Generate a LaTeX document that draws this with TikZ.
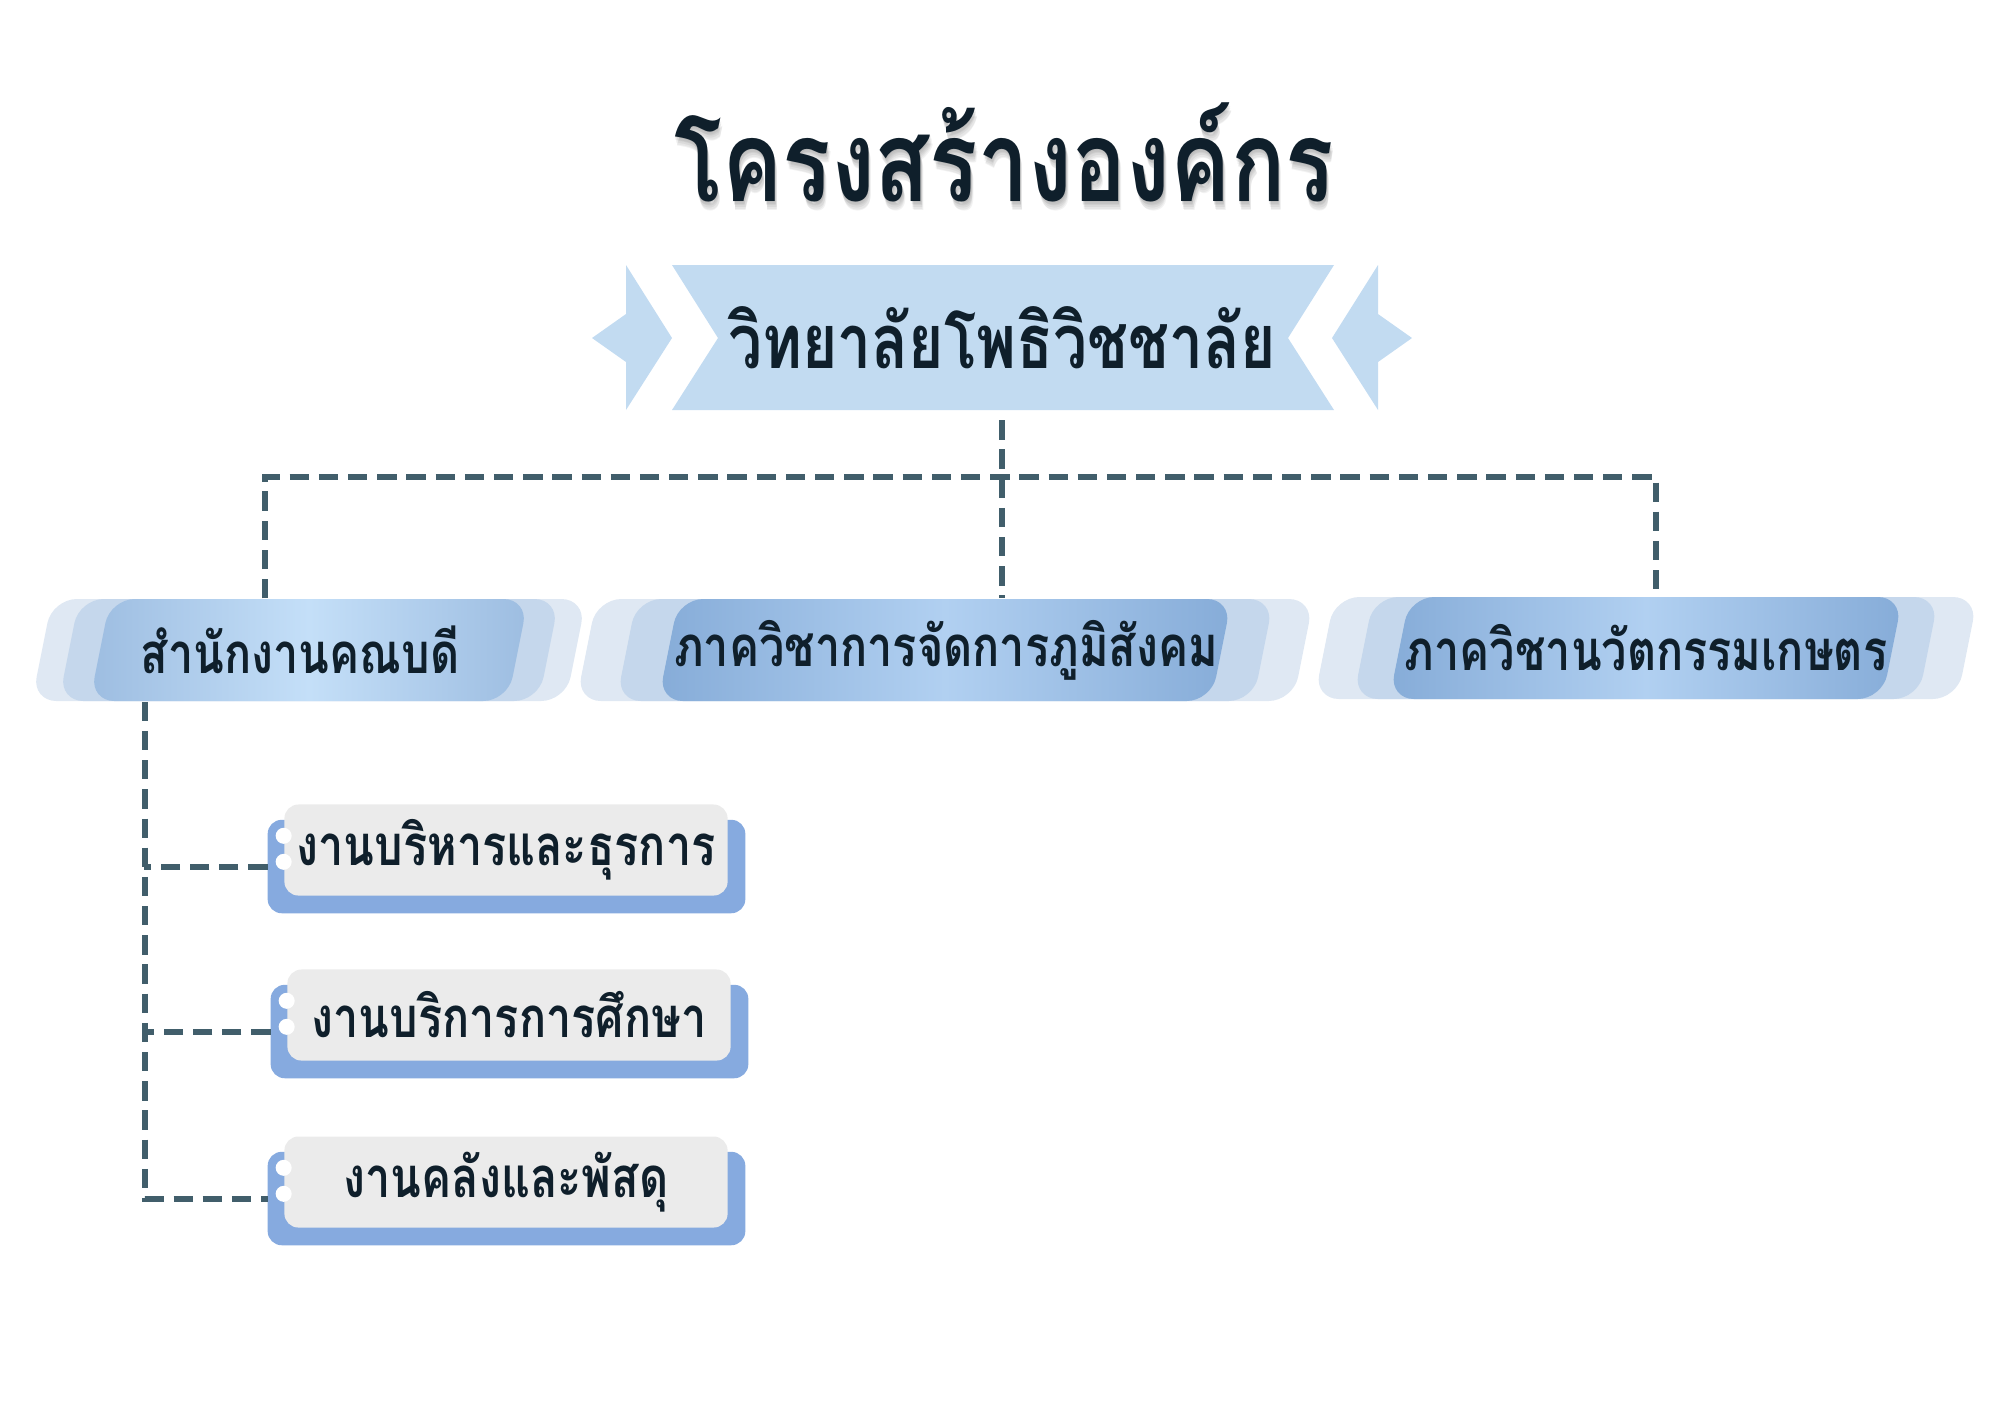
\documentclass[tikz,border=0pt]{standalone}
\usepackage{fontspec}
\newfontfamily\thaifont[Script=Thai,FakeStretch=0.8]{Loma}
\usetikzlibrary{backgrounds}
\definecolor{ink}{HTML}{0F1F2B}
\definecolor{linkc}{HTML}{415E6B}
\definecolor{bannerc}{HTML}{C2DBF1}
\definecolor{bandout}{HTML}{DFE8F3}
\definecolor{bandmid}{HTML}{C5D7EC}
\definecolor{edgeA}{HTML}{9DBDE1}
\definecolor{coreA}{HTML}{C4DFF8}
\definecolor{edgeB}{HTML}{86ACD8}
\definecolor{coreB}{HTML}{B1D0F1}
\definecolor{cardback}{HTML}{86AADF}
\definecolor{cardfront}{HTML}{EBEBEB}
\begin{document}
\begin{tikzpicture}[x=0.01cm,y=-0.01cm,
    link/.style={linkc,line width=1.7pt,dash pattern=on 5.5pt off 2.8pt},
    dept/.style={font=\thaifont\bfseries\fontsize{16}{19}\selectfont,text=ink,minimum height=1.02cm,inner sep=0pt},
    card/.style={fill=cardfront,rounded corners=4pt,minimum width=4.43cm,minimum height=0.91cm,inner sep=0pt,
        font=\thaifont\bfseries\fontsize{16}{19}\selectfont,text=ink}]
    \useasboundingbox (0,0) rectangle (2000,1414);
    % title with a soft shadow
    \foreach \i in {1,...,6} {
        \node[font=\thaifont\bfseries\fontsize{32}{38}\selectfont,text=black,opacity=0.05] (shade\i) at ({1004+\i*0.4},{152+\i*1.6}) {โครงสร้างองค์กร};
    }
    \node[font=\thaifont\bfseries\fontsize{32}{38}\selectfont,text=ink] (title) at (1004,152) {โครงสร้างองค์กร};
    % banner
    \fill[bannerc] (672,265) -- (1334,265) -- (1288,338) -- (1334,410) -- (672,410) -- (718,338) -- cycle;
    \fill[bannerc] (626,265) -- (672,338) -- (626,410) -- (626,362) -- (592,338) -- (626,314) -- cycle;
    \fill[bannerc] (1378,265) -- (1332,338) -- (1378,410) -- (1378,362) -- (1412,338) -- (1378,314) -- cycle;
    \node[font=\thaifont\bfseries\fontsize{21.5}{26}\selectfont,text=ink,minimum height=1.45cm] (college) at (1002,338) {วิทยาลัยโพธิวิชชาลัย};
    % slanted bands behind the departments
    \foreach \cx/\cy/\w/\m/\o/\e/\c in {309/650/418/31/58/edgeA/coreA, 945/650/553/42/82/edgeB/coreB, 1646/648/493/36/75/edgeB/coreB} {
        \begin{scope}[shift={(\cx,\cy)},xslant=0.2]
            \fill[bandout,rounded corners=7pt] (-\w/2-\o,-51) rectangle (\w/2+\o,51);
            \fill[bandmid,rounded corners=7pt] (-\w/2-\m,-51) rectangle (\w/2+\m,51);
            \shade[left color=\e,right color=\e,middle color=\c,rounded corners=7pt] (-\w/2,-51) rectangle (\w/2,51);
        \end{scope}
    }
    \node[dept] (office) at (300,650) {สำนักงานคณบดี};
    \node[dept] (land) at (946,650) {ภาควิชาการจัดการภูมิสังคม};
    \node[dept] (agri) at (1646,648) {ภาควิชานวัตกรรมเกษตร};
    \coordinate (hub) at (1000,477);
    \draw[link] ([yshift=-0.09cm]college.south) -- (college.south |- land.north);
    \draw[link] ([xshift=-0.35cm]office.north) |- (hub) -| ([xshift=0.1cm]agri.north);
    % work units
    \node[card] (admin) at (506,850) {งานบริหารและธุรการ};
    \node[card] (acad) at (509,1015) {งานบริการการศึกษา};
    \node[card] (supply) at (506,1182) {งานคลังและพัสดุ};
    \begin{pgfonlayer}{background}
        \foreach \n in {admin,acad,supply}
            \fill[cardback,rounded corners=4pt] ([xshift=-0.16cm,yshift=-0.16cm]\n.north west) rectangle ([xshift=0.17cm,yshift=-0.17cm]\n.south east);
    \end{pgfonlayer}
    \foreach \n in {admin,acad,supply} {
        \fill[white] ([yshift=-0.32cm]\n.north west) circle (0.08cm);
        \fill[white] ([yshift=-0.58cm]\n.north west) circle (0.08cm);
    }
    \draw[link] ([xshift=-1.55cm]office.south) |- ([xshift=-0.16cm,yshift=-0.165cm]supply.west);
    \draw[link] ([xshift=-0.16cm,yshift=-0.165cm]admin.west) -- +(-1.24cm,0);
    \draw[link] ([xshift=-0.16cm,yshift=-0.165cm]acad.west) -- +(-1.24cm,0);
\end{tikzpicture}
\end{document}
